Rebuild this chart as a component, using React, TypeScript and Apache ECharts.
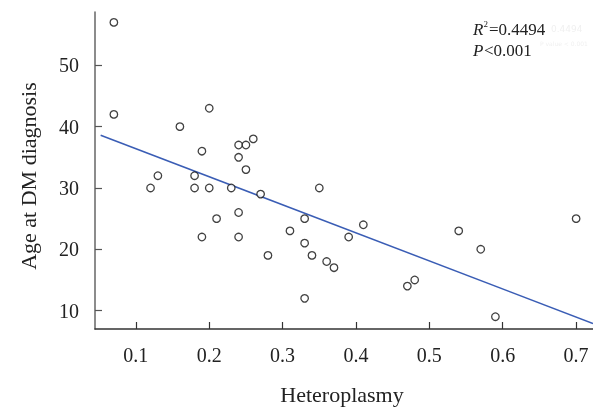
import React, { useEffect, useRef } from 'react';
import * as echarts from 'echarts';

const heteroplasmy = [
  0.07, 0.07, 0.12, 0.13, 0.16, 0.18, 0.18, 0.19, 0.19, 0.2, 0.2, 0.21, 0.23,
  0.24, 0.24, 0.24, 0.24, 0.25, 0.25, 0.26, 0.27, 0.28, 0.31, 0.33, 0.33, 0.33,
  0.34, 0.35, 0.36, 0.37, 0.39, 0.41, 0.47, 0.48, 0.54, 0.57, 0.59, 0.7,
];
const ageAtDiagnosis = [
  57, 42, 30, 32, 40, 32, 30, 36, 22, 43, 30, 25, 30,
  37, 35, 26, 22, 37, 33, 38, 29, 19, 23, 25, 21, 12,
  19, 30, 18, 17, 22, 24, 14, 15, 23, 20, 9, 25,
];
const fitX = [0.052, 0.723];
const fitY = [38.6, 7.9];
const xTicks = [0.1, 0.2, 0.3, 0.4, 0.5, 0.6, 0.7];
const yTicks = [10, 20, 30, 40, 50];
const xTitle = 'Heteroplasmy';
const yTitle = 'Age at DM diagnosis';
const r2Value = '=0.4494';
const pValue = '<0.001';

export default function App() {
  const ref = useRef<HTMLDivElement>(null);
  useEffect(() => {
    const chart = echarts.init(ref.current!, null, { renderer: 'svg' });
    const font = '"Liberation Serif", "Times New Roman", serif';
    const points = heteroplasmy.map((x, i) => [x, ageAtDiagnosis[i]]);
    const fit = fitX.map((x, i) => [x, fitY[i]]);
    chart.setOption({
      animation: false,
      grid: { left: 95, right: 0, top: 12, bottom: 79 },
      xAxis: {
        type: 'value',
        min: 0.0443,
        max: 0.723,
        axisLine: { onZero: false, lineStyle: { color: '#333', width: 1.5 } },
        axisTick: { inside: true, length: 7, customValues: xTicks, lineStyle: { color: '#333', width: 1.2 } },
        axisLabel: {
          customValues: xTicks,
          formatter: (v: number) => v.toFixed(1),
          fontFamily: font,
          fontSize: 20,
          color: '#222',
          margin: 16,
        },
        splitLine: { show: false },
      },
      yAxis: {
        type: 'value',
        min: 7,
        max: 58.7,
        axisLine: { show: true, onZero: false, lineStyle: { color: '#666', width: 1.5 } },
        axisTick: { show: true, inside: true, length: 7, customValues: yTicks, lineStyle: { color: '#555', width: 1.2 } },
        axisLabel: {
          customValues: yTicks,
          fontFamily: font,
          fontSize: 20,
          color: '#222',
          margin: 16,
        },
        splitLine: { show: false },
      },
      series: [
        {
          type: 'line',
          data: fit,
          symbol: 'none',
          lineStyle: { color: '#3a5db5', width: 1.5 },
          z: 2,
        },
        {
          type: 'scatter',
          data: points,
          symbol: 'circle',
          symbolSize: 7.5,
          itemStyle: { color: '#fff', borderColor: '#111', borderWidth: 1.3 },
          z: 3,
        },
      ],
      graphic: [
        {
          type: 'text',
          x: 342,
          y: 394,
          style: { text: xTitle, font: `22px ${font}`, fill: '#222', textAlign: 'center', textVerticalAlign: 'middle' },
        },
        {
          type: 'text',
          x: 28,
          y: 176,
          rotation: Math.PI / 2,
          style: { text: yTitle, font: `22px ${font}`, fill: '#222', textAlign: 'center', textVerticalAlign: 'middle' },
        },
        {
          type: 'text',
          x: 551,
          y: 29,
          style: { text: '0.4494', font: `9px "DejaVu Sans", sans-serif`, fill: '#f0f0f0', textAlign: 'left', textVerticalAlign: 'middle' },
        },
        {
          type: 'text',
          x: 540,
          y: 43,
          style: { text: 'P value < 0.001', font: `6px "DejaVu Sans", sans-serif`, fill: '#f0f0f0', textAlign: 'left', textVerticalAlign: 'middle' },
        },
        {
          type: 'text',
          x: 473,
          y: 29,
          style: { text: 'R', font: `italic 17px ${font}`, fill: '#222', textAlign: 'left', textVerticalAlign: 'middle' },
        },
        {
          type: 'text',
          x: 483.5,
          y: 24,
          style: { text: '2', font: `9px ${font}`, fill: '#222', textAlign: 'left', textVerticalAlign: 'middle' },
        },
        {
          type: 'text',
          x: 489,
          y: 29,
          style: { text: r2Value, font: `17px ${font}`, fill: '#222', textAlign: 'left', textVerticalAlign: 'middle' },
        },
        {
          type: 'text',
          x: 473,
          y: 50,
          style: { text: 'P', font: `italic 17px ${font}`, fill: '#222', textAlign: 'left', textVerticalAlign: 'middle' },
        },
        {
          type: 'text',
          x: 484,
          y: 50,
          style: { text: pValue, font: `17px ${font}`, fill: '#222', textAlign: 'left', textVerticalAlign: 'middle' },
        },
      ],
    });
    return () => chart.dispose();
  }, []);
  return (
    <div
      ref={ref}
      style={{ position: 'fixed', left: 0, top: 0, width: 593, height: 408 }}
    />
  );
}
